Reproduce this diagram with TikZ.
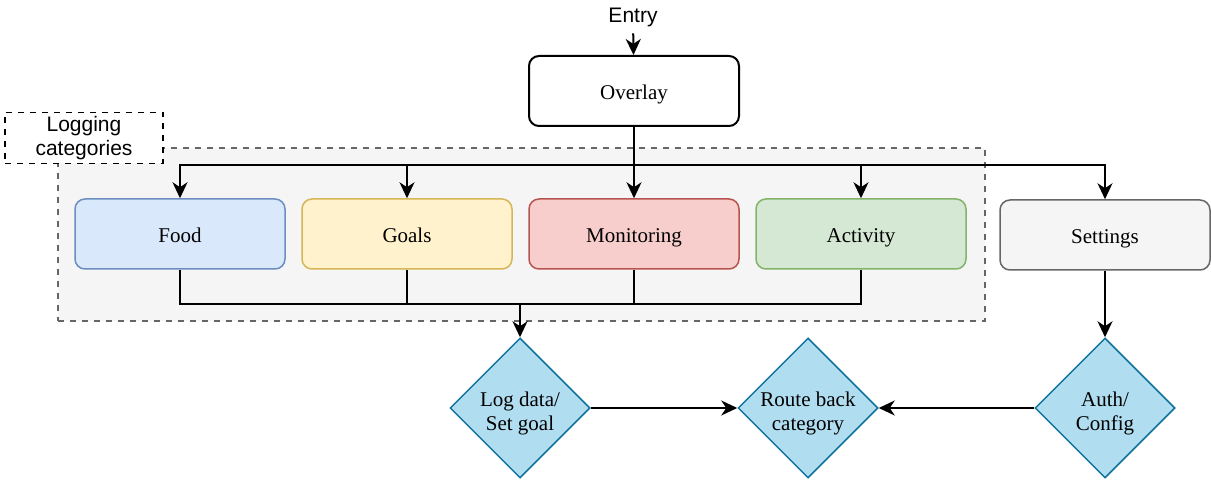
\documentclass[tikz,border=0pt]{standalone}
\usepackage{fontspec}
\setmainfont{Liberation Serif}
\setsansfont{Liberation Sans}
\usepackage{tikz}
\usetikzlibrary{calc,arrows.meta,shapes.geometric,backgrounds}

\definecolor{foodfill}{HTML}{DAE8FC}\definecolor{foodline}{HTML}{6C8EBF}
\definecolor{goalfill}{HTML}{FFF2CC}\definecolor{goalline}{HTML}{D6B656}
\definecolor{monfill}{HTML}{F8CECC}\definecolor{monline}{HTML}{B85450}
\definecolor{actfill}{HTML}{D5E8D4}\definecolor{actline}{HTML}{82B366}
\definecolor{grayfill}{HTML}{F5F5F5}\definecolor{grayline}{HTML}{666666}
\definecolor{decfill}{HTML}{B1DDF0}\definecolor{decline}{HTML}{10739E}

\tikzset{
  screen/.style={draw,rounded corners=5pt,minimum width=105pt,minimum height=35pt,
    line width=0.75pt,text height=8.5pt,text depth=0pt,
    font=\fontsize{10.5}{12}\selectfont},
  decision/.style={diamond,draw=decline,fill=decfill,line width=0.75pt,inner sep=0pt,
    minimum width=70pt,minimum height=70pt,
    label={[align=center,yshift=-2.5pt,font=\fontsize{10.5}{12}\selectfont]center:#1}},
  flow/.style={line width=1pt,>={Stealth[length=8pt,width=7.5pt,inset=2.5pt]}},
}

\begin{document}
\begin{tikzpicture}[x=0.5pt,y=-0.5pt]
            \useasboundingbox (0,0) rectangle (1211,480);
            % group of the logging screens
            \node[draw=grayline,fill=grayfill,dashed,line width=0.75pt,minimum width=463.5pt,
              minimum height=86.5pt,inner sep=0pt] (group) at (521.5,234.5){};
            \node[draw,dashed,fill=white,line width=0.75pt,minimum width=79pt,minimum height=25.5pt,
              inner sep=0pt,align=center,font=\sffamily\fontsize{10.5}{12}\selectfont]
              (label) at (84,138){Logging\\categories};

            \node[font=\sffamily\fontsize{10.5}{12}\selectfont] (entry) at (633,17){Entry};
            \node[screen,line width=1pt,fill=white] (overlay) at (634,91){Overlay};

            \node[screen,draw=foodline,fill=foodfill] (food) at (180,234){Food};
            \node[screen,draw=goalline,fill=goalfill] (goals) at (407,234){Goals};
            \node[screen,draw=monline,fill=monfill] (monitoring) at (634,234){Monitoring};
            \node[screen,draw=actline,fill=actfill] (activity) at (861,234){Activity};
            \node[screen,draw=grayline,fill=grayfill] (settings) at (1105,235){Settings};

            \node[decision={Log data/\\Set goal}] (log) at (520,408){};
            \node[decision={Route back\\category}] (route) at (808,408){};
            \node[decision={Auth/\\Config}] (auth) at (1105,408){};

            \coordinate (split) at (634,165);
            \coordinate (merge) at (520,304);

            \draw[flow,->] (entry) -- (overlay);
            \draw[flow] (overlay.south) -- (split);
            \foreach \n in {food,goals,monitoring,activity,settings}
              \draw[flow,->] (split) -| (\n.north);
            \foreach \n in {food,goals,monitoring,activity}
              \draw[flow] (\n.south) |- (merge);
            \draw[flow,->] (merge) -- (log.north);
            \draw[flow,->] (settings) -- (auth);
            \draw[flow,->] (log) -- (route);
            \draw[flow,->] (auth) -- (route);
          \end{tikzpicture}
\end{document}
